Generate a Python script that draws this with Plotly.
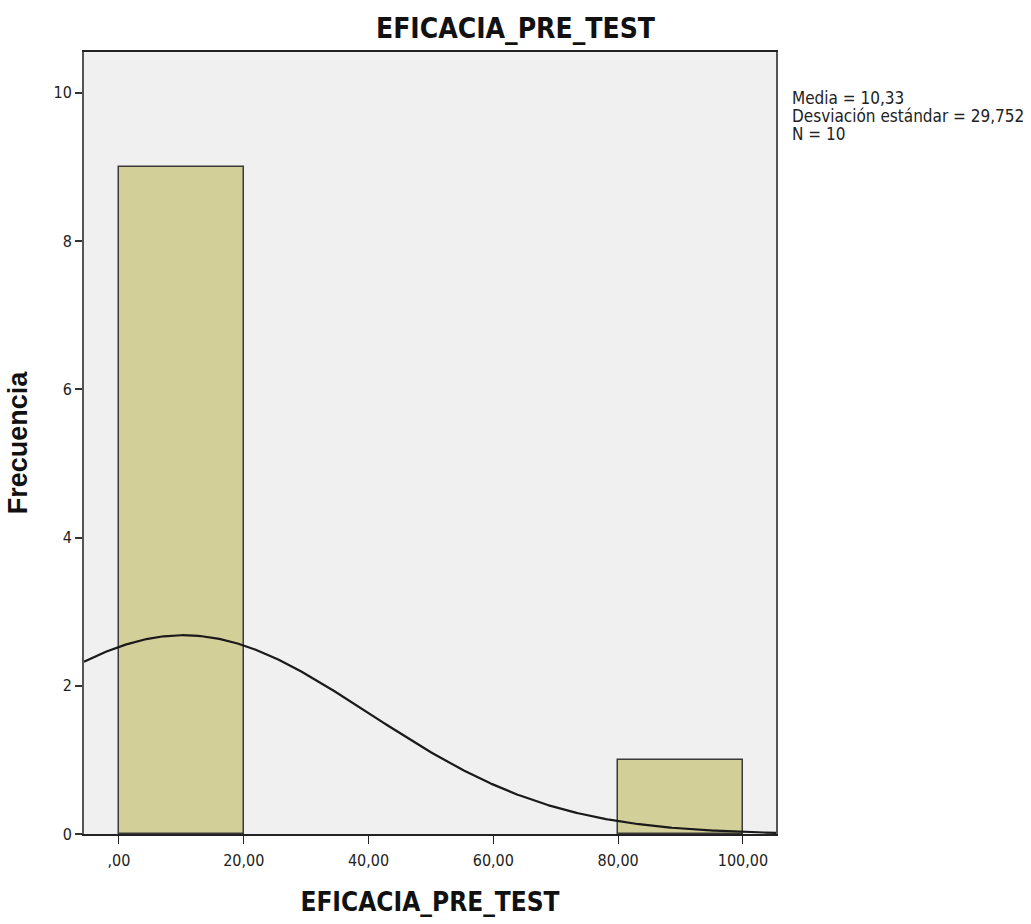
import numpy as np
import plotly.graph_objects as go

# Histogram bins (lower edges, width) and counts
bin_lefts = [0, 80]
bin_width = 20
counts = [9, 1]

# Descriptive statistics shown beside the plot
media = 10.33
desv = 29.752
n = 10

x_ticks = [0, 20, 40, 60, 80, 100]
x_tick_labels = [",00", "20,00", "40,00", "60,00", "80,00", "100,00"]
y_ticks = [0, 2, 4, 6, 8, 10]

x_range = [-5.6, 105.3]
y_range = [0, 10.55]

narrow = "DejaVu Sans Condensed, Liberation Sans Narrow, Arial Narrow, sans-serif"

fig = go.Figure()

fig.add_trace(go.Bar(
    x=[b + bin_width / 2 for b in bin_lefts],
    y=counts,
    width=bin_width,
    marker=dict(color="#D3CF98", line=dict(color="#3a3a3a", width=1.5)),
    hoverinfo="skip",
))

# Normal curve scaled to the histogram (N * bin width)
xs = np.linspace(x_range[0], x_range[1], 400)
ys = n * bin_width / (desv * np.sqrt(2 * np.pi)) * np.exp(-0.5 * ((xs - media) / desv) ** 2)
fig.add_trace(go.Scatter(
    x=xs, y=ys, mode="lines",
    line=dict(color="#1a1a1a", width=2.2),
    hoverinfo="skip",
))

stats_lines = [
    f"Media = {media:.2f}".replace(".", ","),
    f"Desviación estándar = {desv:.3f}".replace(".", ","),
    f"N = {n}",
]
annotations = [
    dict(
        text=line,
        xref="paper", yref="paper",
        x=1, xshift=14, y=1, yshift=-46 - 18 * i,
        xanchor="left", yanchor="middle", align="left", showarrow=False,
        font=dict(family=narrow, size=17, color="#222222"),
    )
    for i, line in enumerate(stats_lines)
]

fig.update_layout(
    width=1031, height=924,
    margin=dict(l=84, r=255, t=52, b=87),
    paper_bgcolor="white",
    plot_bgcolor="#F0F0F0",
    showlegend=False,
    bargap=0,
    title=dict(
        text="<b>EFICACIA_PRE_TEST</b>",
        x=0.5, xanchor="center",
        y=1 - 28 / 924, yanchor="middle",
        font=dict(family=narrow, size=28, color="#111111"),
    ),
    xaxis=dict(
        range=x_range,
        tickvals=x_ticks, ticktext=x_tick_labels,
        ticks="outside", ticklen=8, tickwidth=1.2, tickcolor="#222222",
        tickfont=dict(family=narrow, size=16, color="#222222"),
        ticklabelstandoff=3,
        showgrid=False, zeroline=False,
        showline=True, linecolor="#222222", linewidth=2, mirror=True,
        title=dict(text="<b>EFICACIA_PRE_TEST</b>",
                   font=dict(family=narrow, size=26, color="#111111"),
                   standoff=24),
    ),
    yaxis=dict(
        range=y_range,
        tickvals=y_ticks,
        ticks="outside", ticklen=7, tickwidth=1.5, tickcolor="#333333",
        tickfont=dict(family=narrow, size=16, color="#222222"),
        showgrid=False, zeroline=False,
        showline=True, linecolor="#555555", linewidth=2, mirror=True,
        title=dict(text="<b>Frecuencia</b>",
                   font=dict(family="Liberation Sans, Arial, sans-serif", size=27, color="#111111"),
                   standoff=18),
    ),
    annotations=annotations,
)

fig.write_html("out.html")
